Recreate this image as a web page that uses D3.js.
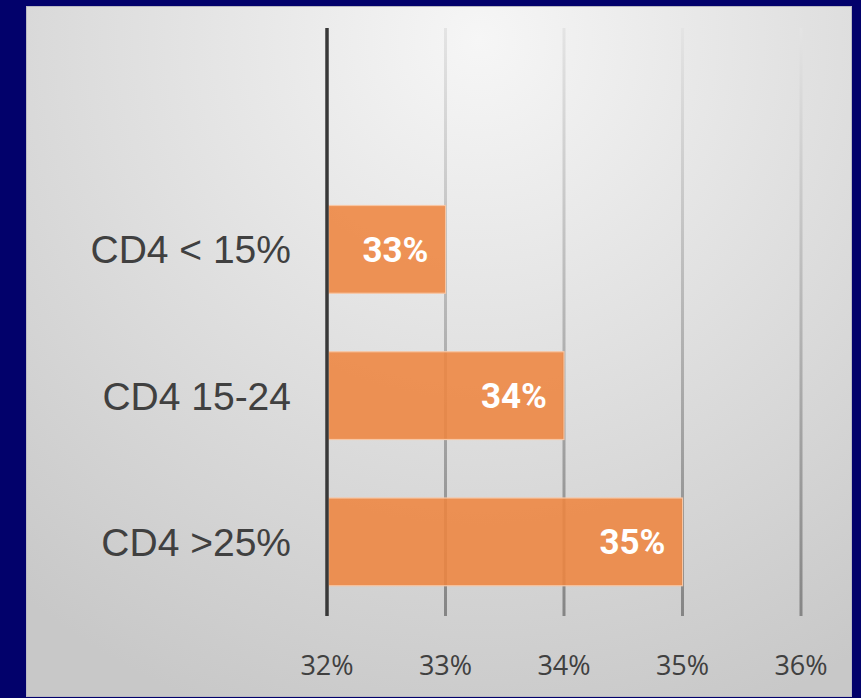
<!DOCTYPE html>
<html>
<head>
<meta charset="utf-8">
<script src="https://cdn.jsdelivr.net/npm/d3@7"></script>
<style>
  html, body { margin: 0; padding: 0; background: #02016b; }
  svg { display: block; }
</style>
</head>
<body>
<svg id="chart" width="861" height="698"></svg>
<script>
// ---- data ----
const categories = ["CD4 < 15%", "CD4 15-24", "CD4 >25%"];
const values = [0.33, 0.34, 0.35];
const valueLabels = ["33%", "34%", "35%"];
const tickValues = [0.32, 0.33, 0.34, 0.35, 0.36];
const tickLabels = ["32%", "33%", "34%", "35%", "36%"];

const W = 861, H = 698;
const svg = d3.select("#chart");

// background
svg.append("rect").attr("width", W).attr("height", H).attr("fill", "#02016b");

const defs = svg.append("defs");
const bg = defs.append("radialGradient")
  .attr("id", "bgGrad").attr("gradientUnits", "userSpaceOnUse")
  .attr("cx", 480).attr("cy", 40).attr("r", 720);
bg.append("stop").attr("offset", 0).attr("stop-color", "#f6f6f6");
bg.append("stop").attr("offset", 1).attr("stop-color", "#c8c8c8");

const gg = defs.append("linearGradient")
  .attr("id", "gridGrad").attr("gradientUnits", "userSpaceOnUse")
  .attr("x1", 0).attr("y1", 28).attr("x2", 0).attr("y2", 616);
gg.append("stop").attr("offset", 0).attr("stop-color", "#e4e4e4");
gg.append("stop").attr("offset", 1).attr("stop-color", "#858585");

// panel
svg.append("rect")
  .attr("x", 26.5).attr("y", 6.5).attr("width", 825).attr("height", 690)
  .attr("fill", "url(#bgGrad)")
  .attr("stroke", "#b9b9c4").attr("stroke-width", 1);

// plot area
const plotLeft = 327, plotRight = 801, plotTop = 30, plotBottom = 615;
const x = d3.scaleLinear().domain([0.32, 0.36]).range([plotLeft, plotRight]);
// Category axis has four equal slots; the three categories occupy the lower three.
const slot = (plotBottom - plotTop) / 4;
const y = d3.scaleBand().domain(categories)
  .range([plotTop + slot, plotBottom]).paddingInner(0.4).paddingOuter(0.2);

// gridlines
svg.append("g")
  .selectAll("line").data(tickValues.slice(1)).join("line")
  .attr("x1", d => x(d)).attr("x2", d => x(d))
  .attr("y1", 28).attr("y2", 616)
  .attr("stroke", "url(#gridGrad)").attr("stroke-width", 3);

// bars
svg.append("g")
  .selectAll("rect").data(categories).join("rect")
  .attr("x", x(0.32) + 1.5)
  .attr("y", d => y(d))
  .attr("width", (d, i) => x(values[i]) - x(0.32) - 1.5)
  .attr("height", y.bandwidth())
  .attr("fill", "#ee8540").attr("fill-opacity", 0.88)
  .attr("stroke", "#f7c6a4").attr("stroke-width", 1.2);

// vertical category axis line
svg.append("line")
  .attr("x1", x(0.32)).attr("x2", x(0.32))
  .attr("y1", 28).attr("y2", 616)
  .attr("stroke", "#383838").attr("stroke-width", 3.5);

// value labels
svg.append("g")
  .selectAll("text").data(categories).join("text")
  .attr("x", (d, i) => x(values[i]) - 17)
  .attr("y", d => y(d) + y.bandwidth() / 2)
  .attr("dy", "0.36em")
  .attr("text-anchor", "end")
  .attr("font-family", "Roboto, 'Liberation Sans', Arial, sans-serif")
  .attr("font-weight", "bold")
  .attr("font-size", 35)
  .attr("fill", "#ffffff")
  .text((d, i) => valueLabels[i]);

// category labels
svg.append("g")
  .selectAll("text").data(categories).join("text")
  .attr("x", 291)
  .attr("y", d => y(d) + y.bandwidth() / 2)
  .attr("dy", "0.36em")
  .attr("text-anchor", "end")
  .attr("font-family", "'Liberation Sans', Arial, sans-serif")
  .attr("font-size", 39)
  .attr("fill", "#404040")
  .text(d => d);

// x tick labels
svg.append("g")
  .selectAll("text").data(tickValues).join("text")
  .attr("x", d => x(d))
  .attr("y", 675)
  .attr("text-anchor", "middle")
  .attr("font-family", "'Open Sans', sans-serif")
  .attr("font-size", 27)
  .attr("fill", "#404040")
  .text((d, i) => tickLabels[i]);
</script>
</body>
</html>
